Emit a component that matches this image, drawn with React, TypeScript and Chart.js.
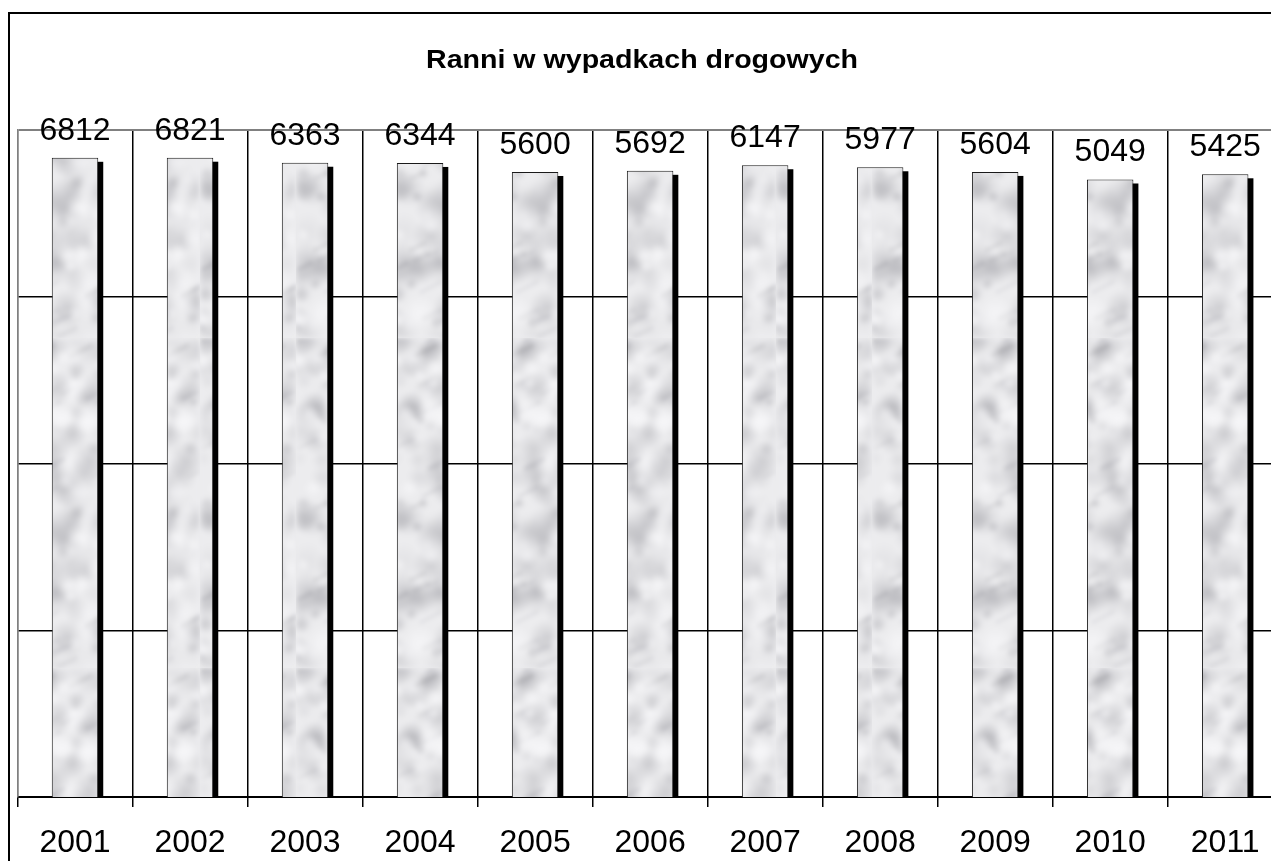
import React, { useEffect, useRef } from 'react';
import { Chart, registerables } from 'chart.js';

Chart.register(...registerables);

const CHART_TITLE = 'Ranni w wypadkach drogowych';
const YEARS = ['2001', '2002', '2003', '2004', '2005', '2006', '2007', '2008', '2009', '2010', '2011'];
const INJURED = [6812, 6821, 6363, 6344, 5600, 5692, 6147, 5977, 5604, 5049, 5425];
const Y_MIN = 1;
const Y_MAX = 10000;

const FONT = '"Liberation Sans", Arial, sans-serif';
const VIEW_W = 1263;
const VIEW_H = 853;
const CANVAS_W = 1300;
const CANVAS_H = 853;
const PLOT_BOTTOM = 789;

function makeMarble(): CanvasPattern | string {
  const w = 96;
  const h = 330;
  const src = document.createElement('canvas');
  src.width = w;
  src.height = h;
  const c = src.getContext('2d');
  if (!c) return '#e4e4e6';
  c.fillStyle = '#ececee';
  c.fillRect(0, 0, w, h);
  let seed = 424242;
  const rnd = () => {
    seed = (seed * 1103515245 + 12345) % 2147483648;
    return seed / 2147483648;
  };
  for (let i = 0; i < 110; i++) {
    const x = rnd() * w;
    const y = rnd() * h;
    const r = 5 + rnd() * 15;
    const a = 0.06 + rnd() * 0.22;
    const g = c.createRadialGradient(x, y, 0, x, y, r);
    g.addColorStop(0, `rgba(120,120,128,${a})`);
    g.addColorStop(1, 'rgba(120,120,128,0)');
    c.fillStyle = g;
    c.beginPath();
    c.arc(x, y, r, 0, Math.PI * 2);
    c.fill();
  }
  c.lineCap = 'round';
  for (let i = 0; i < 22; i++) {
    const x = rnd() * w;
    const y = rnd() * h;
    const L = 8 + rnd() * 22;
    c.strokeStyle = `rgba(125,125,135,${0.08 + rnd() * 0.12})`;
    c.lineWidth = 2 + rnd() * 3;
    c.beginPath();
    c.moveTo(x, y);
    c.lineTo(x + L, y - L * 0.5);
    c.stroke();
  }
  for (let i = 0; i < 45; i++) {
    const x = rnd() * w;
    const y = rnd() * h;
    const r = 6 + rnd() * 12;
    const g = c.createRadialGradient(x, y, 0, x, y, r);
    g.addColorStop(0, 'rgba(250,250,252,0.6)');
    g.addColorStop(1, 'rgba(250,250,252,0)');
    c.fillStyle = g;
    c.beginPath();
    c.arc(x, y, r, 0, Math.PI * 2);
    c.fill();
  }
  const out = document.createElement('canvas');
  out.width = w;
  out.height = h;
  const o = out.getContext('2d');
  if (!o) return '#e4e4e6';
  o.fillStyle = '#ececee';
  o.fillRect(0, 0, w, h);
  o.filter = 'blur(2px)';
  o.drawImage(src, 0, 0);
  const p = o.createPattern(out, 'repeat');
  return p || '#e4e4e6';
}

const framePlugin = {
  id: 'frame',
  beforeDraw(chart: any) {
    const ctx = chart.ctx;
    ctx.save();
    ctx.fillStyle = '#ffffff';
    ctx.fillRect(0, 0, chart.width, chart.height);
    ctx.strokeStyle = '#000000';
    ctx.lineWidth = 2;
    ctx.strokeRect(1, 5, chart.width + 40, chart.height + 40);
    ctx.restore();
  },
};

const titlePlugin = {
  id: 'stretchedTitle',
  afterDraw(chart: any) {
    const ctx = chart.ctx;
    ctx.save();
    ctx.font = `bold 25px ${FONT}`;
    ctx.fillStyle = '#000000';
    ctx.textAlign = 'center';
    ctx.textBaseline = 'alphabetic';
    const w = ctx.measureText(CHART_TITLE).width;
    ctx.translate(634, 59.5);
    ctx.scale(432 / w, 1);
    ctx.fillText(CHART_TITLE, 0, 0);
    ctx.restore();
  },
};

const shadowPlugin = {
  id: 'barShadow',
  beforeDatasetsDraw(chart: any) {
    const ctx = chart.ctx;
    const meta = chart.getDatasetMeta(0);
    ctx.save();
    ctx.fillStyle = '#000000';
    meta.data.forEach((bar: any) => {
      const { x, y, base, width } = bar.getProps(['x', 'y', 'base', 'width'], true);
      ctx.fillRect(x - width / 2 + 5, y + 4, width, base - y - 4);
    });
    ctx.restore();
  },
};

const valueLabelPlugin = {
  id: 'valueLabels',
  afterDatasetsDraw(chart: any) {
    const ctx = chart.ctx;
    const meta = chart.getDatasetMeta(0);
    const data = chart.data.datasets[0].data;
    ctx.save();
    ctx.font = `32px ${FONT}`;
    ctx.fillStyle = '#000000';
    ctx.textAlign = 'center';
    ctx.textBaseline = 'alphabetic';
    meta.data.forEach((bar: any, i: number) => {
      ctx.fillText(String(data[i]), bar.x, bar.y - 18);
    });
    ctx.restore();
  },
};

const isPow10 = (v: number) => {
  const l = Math.log10(v);
  return Math.abs(l - Math.round(l)) < 1e-9;
};

export default function App() {
  const ref = useRef<HTMLCanvasElement | null>(null);

  useEffect(() => {
    if (!ref.current) return;
    const pattern = makeMarble();
    const chart = new Chart(ref.current, {
      type: 'bar',
      data: {
        labels: YEARS,
        datasets: [
          {
            data: INJURED,
            backgroundColor: pattern as any,
            borderColor: '#1a1a1a',
            borderWidth: 1,
            categoryPercentage: 1,
            barPercentage: 0.404,
          },
        ],
      },
      options: {
        animation: false,
        responsive: false,
        devicePixelRatio: 1,
        layout: { padding: { left: 9.5, right: 25.3, top: 122, bottom: 0 } },
        plugins: {
          legend: { display: false },
          title: { display: false },
          tooltip: { enabled: false },
        },
        scales: {
          x: {
            afterFit: (s: any) => {
              s.height = CANVAS_H - PLOT_BOTTOM;
            },
            grid: {
              offset: true,
              color: (c: any) => (c.index === 0 ? '#808080' : '#000000'),
              tickColor: '#000000',
              lineWidth: 1.5,
              tickLength: 10,
              drawTicks: true,
            },
            border: { color: '#000000', width: 2 },
            ticks: {
              font: { family: FONT, size: 32 },
              color: '#000000',
              padding: 17,
              maxRotation: 0,
              autoSkip: false,
            },
          },
          y: {
            type: 'logarithmic',
            min: Y_MIN,
            max: Y_MAX,
            afterBuildTicks: (s: any) => {
              s.ticks = s.ticks.filter((t: any) => isPow10(t.value));
            },
            ticks: { display: false },
            grid: {
              drawTicks: false,
              color: (c: any) => {
                const v = c.tick ? c.tick.value : 0;
                if (v === Y_MAX) return '#808080';
                if (v === Y_MIN) return 'rgba(0,0,0,0)';
                return '#000000';
              },
              lineWidth: (c: any) => (c.tick && c.tick.value === Y_MAX ? 2 : 1.5),
            },
            border: { color: '#808080', width: 1.5 },
          },
        },
      },
      plugins: [framePlugin, shadowPlugin, valueLabelPlugin, titlePlugin],
    });
    return () => chart.destroy();
  }, []);

  return (
    <div
      style={{
        position: 'fixed',
        left: 8,
        top: 8,
        width: VIEW_W,
        height: VIEW_H,
        overflow: 'hidden',
      }}
    >
      <canvas ref={ref} width={CANVAS_W} height={CANVAS_H} style={{ display: 'block' }} />
    </div>
  );
}
